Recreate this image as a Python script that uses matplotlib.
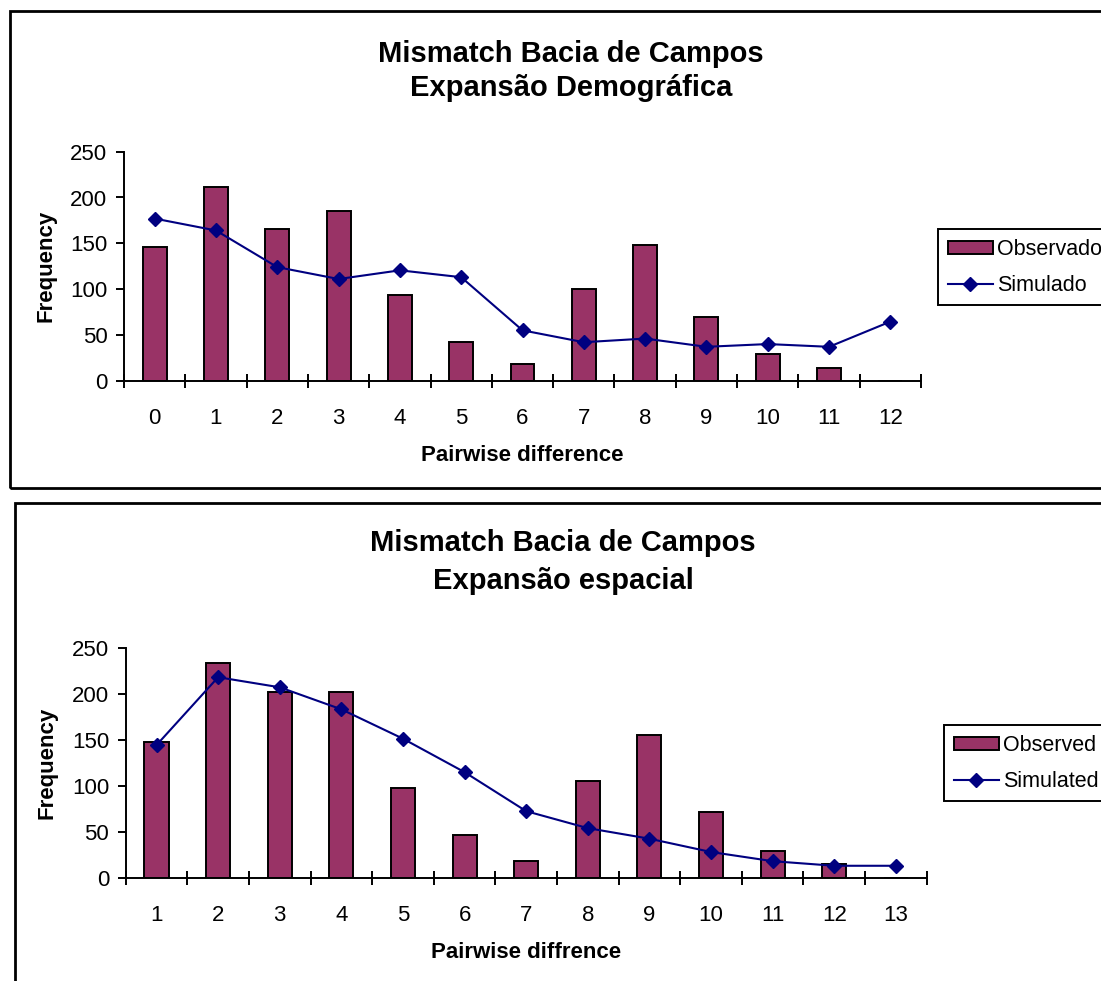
import matplotlib
matplotlib.use("Agg")
import matplotlib.pyplot as plt
from matplotlib.patches import Rectangle
from matplotlib.lines import Line2D
import numpy as np

plt.rcParams['font.family'] = ['Liberation Sans', 'DejaVu Sans']

# Expansao demografica
demo_labels = ['0', '1', '2', '3', '4', '5', '6', '7', '8', '9', '10', '11', '12']
demo_obs = [146, 211, 166, 185, 94, 42, 18, 100, 148, 69, 29, 14, 0]
demo_sim = [177, 164, 124, 111, 120.5, 113, 55, 42, 46, 37, 40, 37, 64.5]

# Expansao espacial
esp_labels = ['1', '2', '3', '4', '5', '6', '7', '8', '9', '10', '11', '12', '13']
esp_obs = [148, 233.5, 202, 202, 98, 46.5, 18.5, 105.5, 155.5, 72, 29.5, 15, 0]
esp_sim = [144.5, 218.5, 207.5, 183.5, 151.5, 115, 72.5, 54, 42.5, 28, 18, 13, 13]

BAR = '#993366'
LINE = '#000080'
W, H = 1101, 981

fig = plt.figure(figsize=(W / 100, H / 100), dpi=100)


def fx(px):
    return px / W


def fy(py):
    return 1 - py / H


def mismatch(rect, labels, obs, sim, xlabel, leg_names, leg_pos):
    ax = fig.add_axes(rect)
    x = np.arange(len(labels))
    ax.bar(x, obs, width=0.39, color=BAR, edgecolor='black', linewidth=1.4, zorder=2)
    ax.plot(x, sim, color=LINE, lw=1.5, marker='D', markersize=7.5, zorder=3)
    ax.set_xlim(-0.5, len(labels) - 0.5)
    ax.set_ylim(0, 250)
    ax.set_yticks([0, 50, 100, 150, 200, 250])
    ax.set_xticks(x)
    ax.set_xticklabels(labels)
    ax.set_xticks(np.arange(-0.5, len(labels)), minor=True)
    ax.tick_params(axis='x', which='major', length=0, pad=19.5, labelsize=16)
    ax.tick_params(axis='x', which='minor', direction='inout', length=10, width=1.4)
    ax.tick_params(axis='y', direction='out', length=6, width=1.4, pad=6, labelsize=16)
    for s in ['top', 'right']:
        ax.spines[s].set_visible(False)
    for s in ['left', 'bottom']:
        ax.spines[s].set_linewidth(1.4)
    ax.set_ylabel('Frequency', fontsize=16, fontweight='bold', labelpad=10)
    ax.set_xlabel(xlabel, fontsize=16, fontweight='bold', labelpad=12)

    handles = [Rectangle((0, 0), 1, 1, facecolor=BAR, edgecolor='black', linewidth=1.4),
               Line2D([], [], color=LINE, lw=1.5, marker='D', markersize=7)]
    leg = fig.legend(handles, leg_names, loc='upper left', bbox_to_anchor=leg_pos,
                     fontsize=15.5, frameon=True, fancybox=False, framealpha=1,
                     edgecolor='black', handlelength=2.1, handleheight=0.55,
                     handletextpad=0.2, borderpad=0.45, labelspacing=0.7,
                     borderaxespad=0)
    leg.get_frame().set_linewidth(1.4)
    return ax


# top chart
fig.patches.append(Rectangle((fx(10), fy(488)), fx(1100), fy(11) - fy(488),
                             transform=fig.transFigure, fill=False,
                             edgecolor='black', linewidth=2))
fig.text(fx(571), fy(62), 'Mismatch Bacia de Campos', ha='center', va='baseline',
         fontsize=21, fontweight='bold')
fig.text(fx(571), fy(96), 'Expansão Demográfica', ha='center', va='baseline',
         fontsize=21, fontweight='bold')
mismatch([fx(124), fy(380.7), fx(797), fy(151.7) - fy(380.7)],
         demo_labels, demo_obs, demo_sim, 'Pairwise difference',
         ['Observado', 'Simulado'], (fx(938), fy(229)))

# bottom chart
fig.patches.append(Rectangle((fx(15), fy(1000)), fx(1100), fy(503) - fy(1000),
                             transform=fig.transFigure, fill=False,
                             edgecolor='black', linewidth=2))
fig.text(fx(563), fy(551), 'Mismatch Bacia de Campos', ha='center', va='baseline',
         fontsize=21, fontweight='bold')
fig.text(fx(563), fy(589), 'Expansão espacial', ha='center', va='baseline',
         fontsize=21, fontweight='bold')
mismatch([fx(125.7), fy(877.7), fx(801), fy(648.3) - fy(877.7)],
         esp_labels, esp_obs, esp_sim, 'Pairwise diffrence',
         ['Observed', 'Simulated'], (fx(944), fy(725)))

fig.savefig('out.png', dpi=100)
